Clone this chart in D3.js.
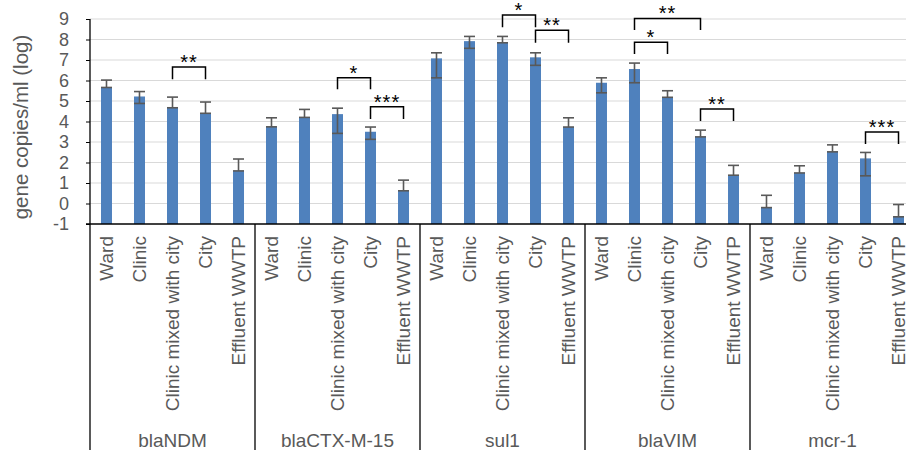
<!DOCTYPE html>
<html>
<head>
<meta charset="utf-8">
<script src="https://cdn.jsdelivr.net/npm/d3@7"></script>
<style>
  body { margin: 0; background: #fff; }
  svg { display: block; font-family: "Liberation Sans", Arial, sans-serif; }
</style>
</head>
<body>
<svg id="chart" width="906" height="450"></svg>
<script>
// ---- data ----
const genes = ["blaNDM", "blaCTX-M-15", "sul1", "blaVIM", "mcr-1"];
const sites = ["Ward", "Clinic", "Clinic mixed with city", "City", "Effluent WWTP"];
const yTicks = [-1, 0, 1, 2, 3, 4, 5, 6, 7, 8, 9];

// mean log gene copies per gene (rows) and site (columns)
const values = [
  [5.66, 5.22, 4.67, 4.40, 1.59],
  [3.74, 4.20, 4.36, 3.50, 0.62],
  [7.08, 7.92, 7.84, 7.13, 3.73],
  [5.89, 6.56, 5.18, 3.25, 1.38],
  [-0.20, 1.49, 2.52, 2.20, -0.65]
];
const errUp = [
  [0.36, 0.24, 0.52, 0.55, 0.58],
  [0.44, 0.39, 0.29, 0.23, 0.52],
  [0.27, 0.23, 0.31, 0.22, 0.45],
  [0.24, 0.29, 0.32, 0.33, 0.48],
  [0.60, 0.35, 0.34, 0.29, 0.60]
];
const errDown = [
  [0.00, 0.34, 0.00, 0.00, 0.00],
  [0.00, 0.00, 0.94, 0.37, 0.00],
  [0.95, 0.35, 0.00, 0.39, 0.00],
  [0.49, 0.67, 0.00, 0.00, 0.00],
  [0.00, 0.00, 0.00, 0.85, 0.00]
];
// significance brackets: gene, from site, to site, top value, leg-end value, label
const bracketGene  = ["blaNDM", "blaCTX-M-15", "blaCTX-M-15", "sul1", "sul1", "blaVIM", "blaVIM", "blaVIM", "mcr-1"];
const bracketFrom  = ["Clinic mixed with city", "Clinic mixed with city", "City", "Clinic mixed with city", "City", "Clinic", "Clinic", "City", "City"];
const bracketTo    = ["City", "City", "Effluent WWTP", "City", "Effluent WWTP", "City", "Clinic mixed with city", "Effluent WWTP", "Effluent WWTP"];
const bracketTop   = [6.66, 6.14, 4.72, 9.20, 8.45, 9.03, 7.86, 4.61, 3.49];
const bracketEnd   = [6.06, 5.57, 4.12, 8.60, 7.84, 8.46, 7.29, 4.02, 2.90];
const bracketLabel = ["**", "*", "***", "*", "**", "**", "*", "**", "***"];

// ---- layout ----
const svg = d3.select("#chart");
const plotLeft = 90, plotTop = 19, axisY = 224, groupW = 165;
const plotRight = plotLeft + groupW * genes.length;

const y = d3.scaleLinear().domain([-1, 9]).range([axisY, plotTop]);
const xGroup = d3.scaleBand().domain(genes).range([plotLeft, plotRight]);
const xSite = d3.scaleBand().domain(sites).range([0, groupW]).paddingInner(0.667).paddingOuter(0.333);
const barW = xSite.bandwidth();
const cx = (g, s) => xGroup(g) + xSite(s) + barW / 2;

const grey = "#595959";

// gridlines
svg.append("g").selectAll("line").data(yTicks.filter(t => t > -1)).join("line")
  .attr("x1", plotLeft).attr("x2", 906)
  .attr("y1", d => y(d)).attr("y2", d => y(d))
  .attr("stroke", "#d9d9d9").attr("stroke-width", 1);

// y axis
const yAxis = svg.append("g").attr("transform", `translate(${plotLeft},0)`)
  .call(d3.axisLeft(y).tickValues(yTicks).tickSize(4).tickPadding(17).tickFormat(d => String(d)));
yAxis.select(".domain").remove();
yAxis.selectAll(".tick line").attr("stroke", "#000");
yAxis.selectAll(".tick text").attr("fill", grey).style("font-size", "18px")
  .style("font-family", "'Liberation Sans', Arial, sans-serif");

// bars
const rows = [];
genes.forEach((g, gi) => sites.forEach((s, si) => rows.push({
  g, s, v: values[gi][si], up: errUp[gi][si], dn: errDown[gi][si]
})));

svg.append("g").selectAll("rect").data(rows).join("rect")
  .attr("x", d => cx(d.g, d.s) - barW / 2)
  .attr("width", barW)
  .attr("y", d => y(d.v))
  .attr("height", d => y(-1) - y(d.v))
  .attr("fill", "#4f81bd");

// error bars
const eb = svg.append("g").attr("stroke", grey).attr("stroke-width", 1.6).attr("fill", "none");
eb.selectAll("line.v").data(rows).join("line").attr("class", "v")
  .attr("x1", d => cx(d.g, d.s)).attr("x2", d => cx(d.g, d.s))
  .attr("y1", d => y(d.v + d.up)).attr("y2", d => y(d.v - d.dn));
eb.selectAll("line.cu").data(rows).join("line").attr("class", "cu")
  .attr("x1", d => cx(d.g, d.s) - barW / 2).attr("x2", d => cx(d.g, d.s) + barW / 2)
  .attr("y1", d => y(d.v + d.up)).attr("y2", d => y(d.v + d.up));
eb.selectAll("line.cd").data(rows).join("line").attr("class", "cd")
  .attr("x1", d => cx(d.g, d.s) - barW / 2).attr("x2", d => cx(d.g, d.s) + barW / 2)
  .attr("y1", d => y(d.v - d.dn)).attr("y2", d => y(d.v - d.dn));

// axes lines
svg.append("line").attr("x1", plotLeft).attr("x2", plotLeft).attr("y1", plotTop).attr("y2", 450)
  .attr("stroke", "#000").attr("stroke-width", 1.3);
svg.append("line").attr("x1", plotLeft - 4).attr("x2", 906).attr("y1", axisY).attr("y2", axisY)
  .attr("stroke", "#000").attr("stroke-width", 1.3);
svg.append("g").selectAll("line").data(genes.slice(1)).join("line")
  .attr("x1", d => xGroup(d)).attr("x2", d => xGroup(d))
  .attr("y1", axisY).attr("y2", 450)
  .attr("stroke", "#000").attr("stroke-width", 1.3);

// site labels
svg.append("g").selectAll("text").data(rows).join("text")
  .attr("transform", d => `translate(${cx(d.g, d.s)},236) rotate(-90)`)
  .attr("text-anchor", "end").attr("dy", "0.36em")
  .attr("fill", grey).style("font-size", "19px")
  .text(d => d.s);

// gene labels
svg.append("g").selectAll("text").data(genes).join("text")
  .attr("x", d => xGroup(d) + groupW / 2).attr("y", 447)
  .attr("text-anchor", "middle").attr("fill", grey).style("font-size", "19px")
  .text(d => d);

// y title
svg.append("text")
  .attr("transform", "translate(21,127) rotate(-90)")
  .attr("text-anchor", "middle").attr("dy", "0.35em")
  .attr("fill", grey).style("font-size", "20.5px")
  .text("gene copies/ml (log)");

// significance brackets
const br = bracketGene.map((g, i) => ({
  x1: cx(g, bracketFrom[i]), x2: cx(g, bracketTo[i]),
  t: bracketTop[i], e: bracketEnd[i], lab: bracketLabel[i]
}));
const bg = svg.append("g");
bg.selectAll("path").data(br).join("path")
  .attr("d", d => `M${d.x1},${y(d.e)}V${y(d.t)}H${d.x2}V${y(d.e)}`)
  .attr("fill", "none").attr("stroke", "#000").attr("stroke-width", 1.5);
bg.selectAll("text").data(br).join("text")
  .attr("x", d => (d.x1 + d.x2) / 2).attr("y", d => y(d.t) + 2)
  .attr("text-anchor", "middle").attr("fill", "#000").style("font-size", "20px")
  .attr("letter-spacing", "1px")
  .text(d => d.lab);
</script>
</body>
</html>
